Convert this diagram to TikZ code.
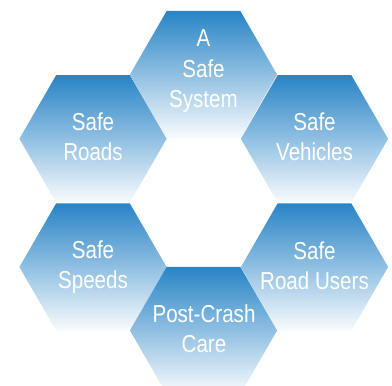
\documentclass[tikz,border=0pt]{standalone}
\usepackage{fontspec}
\setmainfont{Liberation Sans}[FakeStretch=0.84]
\definecolor{hexblue}{RGB}{40,132,198}
\begin{document}
\begin{tikzpicture}[x=1pt,y=-1pt,
  hexfill/.style={top color=hexblue, bottom color=hexblue!3!white, draw=none},
  lbl/.style={text=white, font=\fontsize{24.5}{30}\selectfont, anchor=base, inner sep=0pt}]
\useasboundingbox (0,0) rectangle (392,386);
\clip (0,0) rectangle (392,386);
\foreach \cx/\cy in {203.5/74.6, 93/138.8, 314.5/138.8, 93/267, 314.5/267, 203.5/330.5}{
  \shade[hexfill, shift={(\cx,\cy)}] (-73.6,0) -- (-36.8,-63.7) -- (36.8,-63.7) -- (73.6,0) -- (36.8,63.7) -- (-36.8,63.7) -- cycle;
}
% A Safe System
\node[lbl] (sysA) at (203.5,46) {A};
\node[lbl] (sysB) at (203.5,77) {Safe};
\node[lbl] (sysC) at (203.5,107.5) {System};
% Safe Roads
\node[lbl] (roadsA) at (93,130.7) {Safe};
\node[lbl] (roadsB) at (93,160.7) {Roads};
% Safe Vehicles
\node[lbl] (vehA) at (314.5,130.7) {Safe};
\node[lbl] (vehB) at (314.5,160.7) {Vehicles};
% Safe Speeds
\node[lbl] (spdA) at (93,258.5) {Safe};
\node[lbl] (spdB) at (93,288.5) {Speeds};
% Safe Road Users
\node[lbl] (usrA) at (314.5,259) {Safe};
\node[lbl] (usrB) at (314.5,289) {Road Users};
% Post-Crash Care
\node[lbl] (careA) at (204,322.7) {Post-Crash};
\node[lbl] (careB) at (204,352) {Care};
\end{tikzpicture}
\end{document}
